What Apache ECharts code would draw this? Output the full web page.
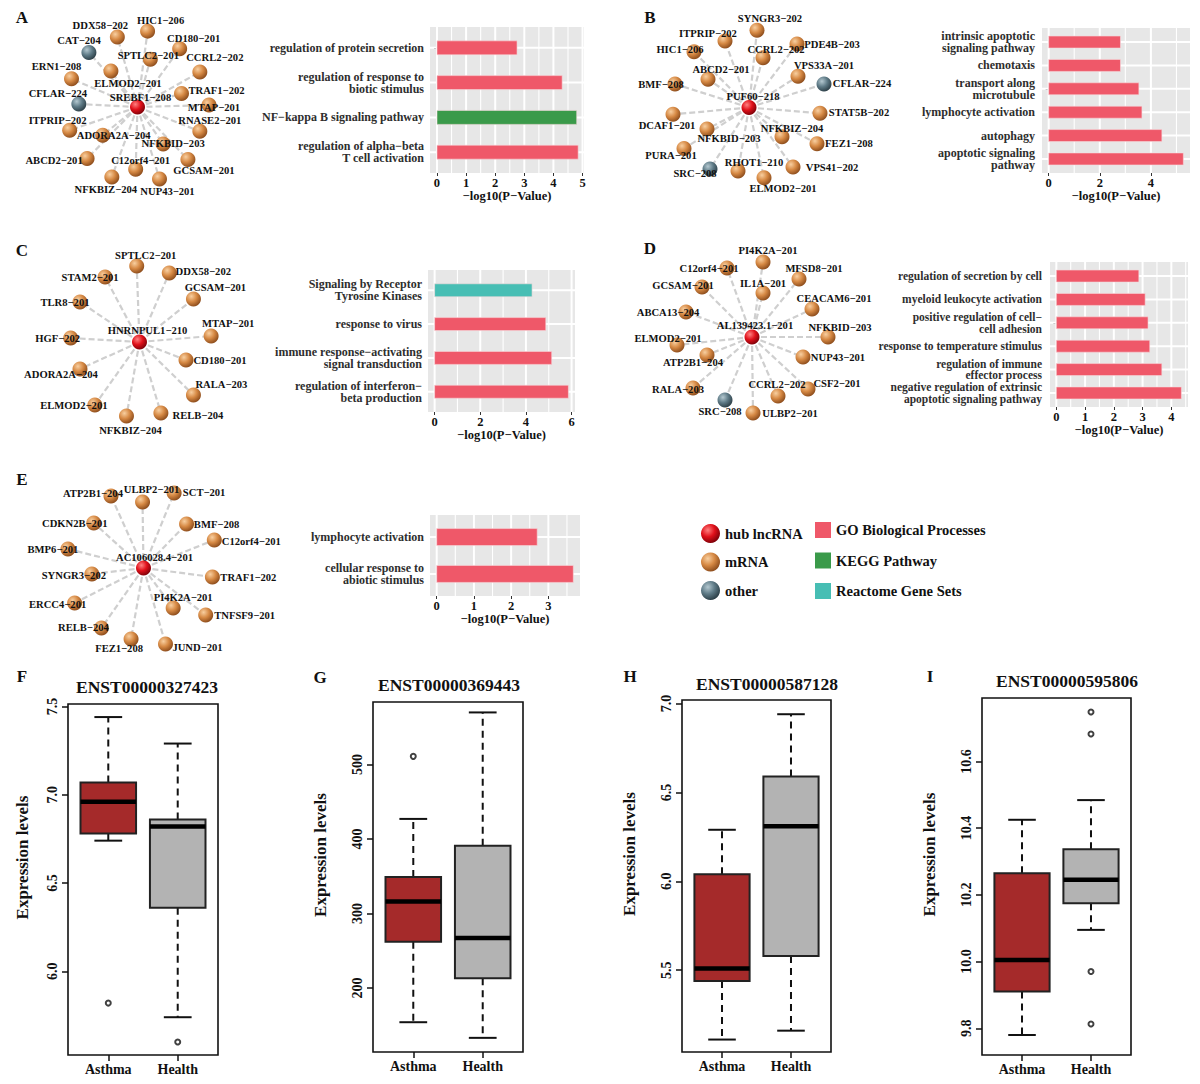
<!DOCTYPE html>
<html><head><meta charset="utf-8">
<script src="https://cdn.jsdelivr.net/npm/echarts@6/dist/echarts.min.js"></script>
<style>html,body{margin:0;padding:0;background:#fff}#c{width:1200px;height:1084px}</style>
</head><body><div id="c"></div>
<script>
// ================= DATA =================
// ---- Networks (hub first). Types: hub / mRNA / other
const netA_names = ['SREBF1-208','DDX58-202','HIC1-206','CAT-204','CD180-201','SPTLC2-201','CCRL2-202','ERN1-208','ELMOD2-201','TRAF1-202','CFLAR-224','MTAP-201','ITPRIP-202','RNASE2-201','ADORA2A-204','NFKBID-203','ABCD2-201','C12orf4-201','GCSAM-201','NFKBIZ-204','NUP43-201'];
const netA_types = ['hub','mRNA','mRNA','other','mRNA','mRNA','mRNA','mRNA','mRNA','mRNA','other','mRNA','mRNA','mRNA','mRNA','mRNA','mRNA','mRNA','mRNA','mRNA','mRNA'];
const netB_names = ['PUF60-218','SYNGR3-202','ITPRIP-202','PDE4B-203','HIC1-206','CCRL2-202','ABCD2-201','VPS33A-201','CFLAR-224','BMF-208','DCAF1-201','STAT5B-202','NFKBID-203','NFKBIZ-204','FEZ1-208','PURA-201','SRC-208','RHOT1-210','VPS41-202','ELMOD2-201'];
const netB_types = ['hub','mRNA','mRNA','mRNA','mRNA','mRNA','mRNA','mRNA','other','mRNA','mRNA','mRNA','mRNA','mRNA','mRNA','mRNA','other','mRNA','mRNA','mRNA'];
const netC_names = ['HNRNPUL1-210','SPTLC2-201','DDX58-202','STAM2-201','GCSAM-201','TLR8-201','MTAP-201','HGF-202','CD180-201','ADORA2A-204','RALA-203','ELMOD2-201','RELB-204','NFKBIZ-204'];
const netC_types = ['hub','mRNA','mRNA','mRNA','mRNA','mRNA','mRNA','mRNA','mRNA','mRNA','mRNA','mRNA','mRNA','mRNA'];
const netD_names = ['AL139423.1-201','PI4K2A-201','C12orf4-201','MFSD8-201','GCSAM-201','IL1A-201','CEACAM6-201','ABCA13-204','NFKBID-203','ELMOD2-201','ATP2B1-204','NUP43-201','RALA-203','CCRL2-202','CSF2-201','SRC-208','ULBP2-201'];
const netD_types = ['hub','mRNA','mRNA','mRNA','mRNA','mRNA','mRNA','mRNA','mRNA','mRNA','mRNA','mRNA','mRNA','mRNA','mRNA','other','mRNA'];
const netE_names = ['AC106028.4-201','ATP2B1-204','ULBP2-201','SCT-201','CDKN2B-201','BMF-208','C12orf4-201','BMP6-201','SYNGR3-202','TRAF1-202','PI4K2A-201','ERCC4-201','TNFSF9-201','RELB-204','FEZ1-208','JUND-201'];
const netE_types = ['hub','mRNA','mRNA','mRNA','mRNA','mRNA','mRNA','mRNA','mRNA','mRNA','mRNA','mRNA','mRNA','mRNA','mRNA','mRNA'];

// ---- Enrichment bar panels
const barA_terms = ['regulation of protein secretion','regulation of response to\nbiotic stimulus','NF\u2212kappa B signaling pathway','regulation of alpha\u2212beta\nT cell activation'];
const barA_values = [2.75, 4.30, 4.80, 4.85];
const barA_source = ['GO','GO','KEGG','GO'];
const barA_ticks = [0,1,2,3,4,5];
const barB_terms = ['intrinsic apoptotic\nsignaling pathway','chemotaxis','transport along\nmicrotubule','lymphocyte activation','autophagy','apoptotic signaling\npathway'];
const barB_values = [2.81, 2.81, 3.53, 3.65, 4.43, 5.27];
const barB_source = ['GO','GO','GO','GO','GO','GO'];
const barB_ticks = [0,2,4];
const barC_terms = ['Signaling by Receptor\nTyrosine Kinases','response to virus','immune response\u2212activating\nsignal transduction','regulation of interferon\u2212\nbeta production'];
const barC_values = [4.27, 4.87, 5.13, 5.86];
const barC_source = ['Reactome','GO','GO','GO'];
const barC_ticks = [0,2,4,6];
const barD_terms = ['regulation of secretion by cell','myeloid leukocyte activation','positive regulation of cell\u2212\ncell adhesion','response to temperature stimulus','regulation of immune\neffector process','negative regulation of extrinsic\napoptotic signaling pathway'];
const barD_values = [2.87, 3.09, 3.19, 3.25, 3.67, 4.35];
const barD_source = ['GO','GO','GO','GO','GO','GO'];
const barD_ticks = [0,1,2,3,4];
const barE_terms = ['lymphocyte activation','cellular response to\nabiotic stimulus'];
const barE_values = [2.70, 3.67];
const barE_source = ['GO','GO'];
const barE_ticks = [0,1,2,3];

// ---- Box plots: [lower whisker, Q1, median, Q3, upper whisker]
const boxGroups = ['Asthma','Health'];
const boxF_title = 'ENST00000327423';
const boxF_stats = [[6.74,6.78,6.96,7.07,7.44],[5.74,6.36,6.82,6.86,7.29]];
const boxF_out = [[5.82],[5.60]];
const boxF_ticks = [6.0,6.5,7.0,7.5];
const boxG_title = 'ENST00000369443';
const boxG_stats = [[154,262,316,349,427],[133,213,267,391,570]];
const boxG_out = [[511],[]];
const boxG_ticks = [200,300,400,500];
const boxH_title = 'ENST00000587128';
const boxH_stats = [[5.11,5.44,5.51,6.04,6.29],[5.16,5.58,6.31,6.59,6.94]];
const boxH_out = [[],[]];
const boxH_ticks = [5.5,6.0,6.5,7.0];
const boxI_title = 'ENST00000595806';
const boxI_stats = [[9.78,9.91,10.005,10.265,10.425],[10.095,10.175,10.245,10.337,10.484]];
const boxI_out = [[],[10.748,10.682,9.97,9.813]];
const boxI_ticks = [9.8,10.0,10.2,10.4,10.6];

// ================= LAYOUT (positions / styles) =================
const netA_node = [[125,104],[103,32],[136,26],[72,48],[171,44],[139,55],[193,68],[53,75],[96,67],[173,90],[61,101],[203,102],[51,128],[193,129],[87,133],[153,142],[70,157],[123,168],[180,158],[97,176],[149,178]];
const netA_lab  = [[128,94],[86,21],[149,15],[62,36],[185,34],[137,51],[208,54],[38,63],[113,79],[208,87],[40,90],[208,104],[39,118],[203,118],[98,133],[163,142],[37,159],[128,159],[196,169],[91,188],[157,191]];
const netB_node = [[749,105],[757,26],[725,37],[797,40],[694,48],[763,54],[708,76],[798,73],[824,81],[675,81],[673,112],[820,111],[707,127],[782,135],[817,142],[684,147],[710,168],[738,170],[793,166],[764,177]];
const netB_lab  = [[753,94],[770,14],[708,29],[832,41],[680,46],[776,46],[721,66],[824,62],[862,80],[661,81],[667,123],[859,110],[729,136],[792,127],[849,142],[671,154],[695,172],[754,161],[832,166],[783,188]];
const netC_node = [[129,342],[126,266],[161,273],[92,277],[187,299],[65,302],[206,336],[55,338],[179,360],[65,369],[187,395],[81,405],[152,413],[115,416]];
const netC_lab  = [[137,330],[135,255],[195,271],[77,277],[209,287],[50,302],[223,323],[42,338],[213,360],[46,374],[215,384],[60,405],[189,415],[119,430]];
const netD_node = [[752,337],[763,262],[727,268],[799,279],[702,287],[763,293],[812,309],[686,312],[828,337],[677,345],[707,355],[803,357],[693,388],[778,396],[808,389],[725,400],[753,413]];
const netD_lab  = [[755,325],[768,250],[709,268],[814,268],[683,285],[763,283],[834,298],[668,312],[840,327],[668,338],[693,362],[838,357],[678,389],[777,384],[837,383],[720,411],[790,413]];
const netE_node = [[137,568],[103,496],[136,502],[169,493],[85,523],[182,524],[211,540],[58,549],[83,574],[209,577],[168,608],[65,603],[202,615],[93,628],[124,639],[160,644]];
const netE_lab  = [[148,557],[85,493],[145,489],[199,492],[66,523],[212,524],[248,541],[43,549],[65,575],[245,577],[178,597],[48,604],[241,615],[75,627],[112,648],[192,647]];

const FONT = "'Liberation Serif','Times New Roman',serif";
const COLORS = {GO:'#EF5869', KEGG:'#3A9A4A', Reactome:'#47BEB4'};
const SOURCE_NAMES = {GO:'GO Biological Processes', KEGG:'KEGG Pathway', Reactome:'Reactome Gene Sets'};
const sphere = (a,b,c)=>({type:'radial', x:0.36, y:0.32, r:0.72, colorStops:[{offset:0,color:a},{offset:0.5,color:b},{offset:1,color:c}]});
const NODE_CATS = [
  {name:'hub lncRNA', itemStyle:{color:sphere('#ff8080','#e0101a','#7a0008')}},
  {name:'mRNA', itemStyle:{color:sphere('#f8cfa0','#d68944','#8a4a1a')}},
  {name:'other', itemStyle:{color:sphere('#b4c8d0','#5f7b87','#2a3c44')}}
];
const CAT_INDEX = {hub:0, mRNA:1, other:2};
const minus = s => s.replace(/-/g,'\u2212');

const option = {animation:false, backgroundColor:'#fff', grid:[], xAxis:[], yAxis:[], series:[], graphic:[]};
function addGrid(g, xa, ya){ const i = option.grid.length; option.grid.push(g); xa.gridIndex=i; ya.gridIndex=i; option.xAxis.push(xa); option.yAxis.push(ya); return i; }

// ---------- Networks ----------
function makeNet(names, types, nodeXY, labXY){
  const hub = nodeXY[0];
  const gi = addGrid({left:hub[0]-150, top:hub[1]-110, width:300, height:220, show:false},
    {type:'value', min:-150, max:150, show:false},
    {type:'value', min:-110, max:110, inverse:true, show:false});
  option.series.push({
    type:'graph', coordinateSystem:'cartesian2d', xAxisIndex:gi, yAxisIndex:gi, layout:'none', silent:true,
    categories: NODE_CATS, symbolSize:15, z:3,
    lineStyle:{color:'#cfcfcf', width:2.2, type:[6,3], opacity:1, curveness:0},
    label:{show:true, position:'inside', fontFamily:FONT, fontWeight:'bold', fontSize:10.6, color:'#111'},
    data: names.map((n,i)=>({name:n, value:[nodeXY[i][0]-hub[0], nodeXY[i][1]-hub[1]], category:CAT_INDEX[types[i]],
      label:{offset:[labXY[i][0]-nodeXY[i][0], labXY[i][1]-nodeXY[i][1]], formatter:minus(n)}})),
    links: names.slice(1).map(n=>({source:names[0], target:n}))
  });
}
makeNet(netA_names, netA_types, netA_node, netA_lab);
makeNet(netB_names, netB_types, netB_node, netB_lab);
makeNet(netC_names, netC_types, netC_node, netC_lab);
makeNet(netD_names, netD_types, netD_node, netD_lab);
makeNet(netE_names, netE_types, netE_node, netE_lab);

// ---------- Bar panels ----------
function makeBar(terms, values, sources, ticks, cfg){
  const n = terms.length;
  const step = ticks[1]-ticks[0];
  const minors = []; for (let v=ticks[0]+step/2; v<cfg.max; v+=step/2) if (ticks.indexOf(+v.toFixed(4))<0) minors.push(+v.toFixed(4));
  const idx = terms.map((t,i)=>i+1);
  const gi = addGrid({left:cfg.left, top:cfg.top, width:cfg.width, height:cfg.height, show:true, backgroundColor:'#E7E7E7', borderWidth:0},
    {type:'value', min:cfg.min, max:cfg.max, splitLine:{show:false}, axisLine:{show:false},
     axisTick:{show:true, customValues:ticks, length:3, lineStyle:{color:'#333', width:1}},
     axisLabel:{customValues:ticks, formatter:v=>String(v), margin:3, hideOverlap:false, fontFamily:FONT, fontWeight:'bold', fontSize:12.5, color:'#111'},
     name:'\u2212log10(P\u2212Value)', nameLocation:'middle', nameGap:15,
     nameTextStyle:{fontFamily:FONT, fontWeight:'bold', fontSize:12.5, color:'#111'}},
    {type:'value', min:0.4, max:n+0.6, inverse:true, splitLine:{show:false}, axisLine:{show:false},
     axisTick:{show:true, customValues:idx, length:3, lineStyle:{color:'#333', width:1}},
     axisLabel:{show:false}});
  // white grid lines
  const gl = ticks.map(v=>[v,0]).concat(minors.map(v=>[v,1])).concat(idx.map(v=>[v,2]));
  option.series.push({type:'custom', xAxisIndex:gi, yAxisIndex:gi, silent:true, z:1, data:gl,
    renderItem:function(params, api){
      const v = api.value(0), k = api.value(1), cs = params.coordSys;
      if (k===2){ const y = api.coord([0,v])[1]; return {type:'line', shape:{x1:cs.x, y1:y, x2:cs.x+cs.width, y2:y}, style:{stroke:'#fff', lineWidth:2}}; }
      const x = api.coord([v,1])[0];
      return {type:'line', shape:{x1:x, y1:cs.y, x2:x, y2:cs.y+cs.height}, style:{stroke:'#fff', lineWidth:k===0?2:1.1}};
    }});
  // category (term) labels, placed through the y scale
  const fs = cfg.fs || 12, lh = cfg.lh || 12;
  option.series.push({type:'custom', xAxisIndex:gi, yAxisIndex:gi, silent:true, z:4, clip:false,
    data: idx.map(i=>[cfg.min, i]),
    renderItem:function(params, api){
      const cs = params.coordSys, y = api.coord([0, api.value(1)])[1];
      return {type:'text', x:cs.x - cfg.lm, y:y, style:{text:terms[params.dataIndex], align:'right', verticalAlign:'middle',
        fontFamily:FONT, fontWeight:'bold', fontSize:fs, lineHeight:lh, fill:'#2e2e2e'}};
    }});
  ['GO','KEGG','Reactome'].forEach(src=>{
    const d = []; values.forEach((v,i)=>{ if (sources[i]===src) d.push([v, i+1]); });
    if (!d.length) return;
    option.series.push({type:'custom', name:SOURCE_NAMES[src], xAxisIndex:gi, yAxisIndex:gi, z:2, silent:true,
      itemStyle:{color:COLORS[src]}, data:d,
      renderItem:function(params, api){
        const p0 = api.coord([0, api.value(1)]), p1 = api.coord([api.value(0), api.value(1)]);
        return {type:'rect', shape:{x:p0[0], y:p0[1]-cfg.thick/2, width:p1[0]-p0[0], height:cfg.thick}, style:{fill:COLORS[src], stroke:'#f6dadd', lineWidth:0.6}};
      }});
  });
}
makeBar(barA_terms, barA_values, barA_source, barA_ticks, {left:430, top:27, width:154, height:146, min:-0.24, max:5.05, thick:14, lm:6});
makeBar(barB_terms, barB_values, barB_source, barB_ticks, {left:1042, top:28, width:148, height:145, min:-0.26, max:5.53, thick:12, lm:7});
makeBar(barC_terms, barC_values, barC_source, barC_ticks, {left:428, top:270, width:147, height:142, min:-0.29, max:6.15, thick:13, lm:6});
makeBar(barD_terms, barD_values, barD_source, barD_ticks, {left:1050, top:262, width:138, height:145, min:-0.22, max:4.58, thick:12, lm:8, fs:11.5, lh:11.6});
makeBar(barE_terms, barE_values, barE_source, barE_ticks, {left:430, top:515, width:150, height:81, min:-0.18, max:3.85, thick:17, lm:6});

// ---------- Box panels ----------
const BOX_FILL = ['#A52A2A','#B3B3B3'];
function makeBox(title, stats, outs, ticks, cfg){
  const dec = ticks.some(t=>Math.abs(t-Math.round(t))>1e-9) ? 1 : 0;
  const gi = addGrid({left:cfg.left, top:cfg.top, width:cfg.width, height:cfg.height, show:true, borderColor:'#111', borderWidth:1.6, backgroundColor:'transparent'},
    {type:'value', min:0.42, max:2.58, splitLine:{show:false}, axisLine:{show:false},
     axisTick:{show:true, customValues:[1,2], length:6, lineStyle:{color:'#111', width:1.5}},
     axisLabel:{customValues:[1,2], formatter:v=>boxGroups[Math.round(v)-1], margin:7, hideOverlap:false, fontFamily:FONT, fontWeight:'bold', fontSize:14, color:'#111'}},
    {type:'value', min:cfg.min, max:cfg.max, splitLine:{show:false}, axisLine:{show:false},
     axisTick:{show:true, customValues:ticks, length:6, lineStyle:{color:'#111', width:1.5}},
     axisLabel:{customValues:ticks, formatter:v=>v.toFixed(dec), rotate:90, margin:9, hideOverlap:false, showMinLabel:true, showMaxLabel:true, fontFamily:FONT, fontWeight:'bold', fontSize:14, color:'#111'},
     name:'Expression levels', nameLocation:'middle', nameGap:cfg.ng, nameRotate:90,
     nameTextStyle:{fontFamily:FONT, fontWeight:'bold', fontSize:17, color:'#111', padding:[0,0,0,44]}});
  option.series.push({type:'custom', xAxisIndex:gi, yAxisIndex:gi, silent:true, z:2,
    data: stats.map((s,i)=>[i+1].concat(s)),
    renderItem:function(params, api){
      const x = api.value(0), lw=api.value(1), q1=api.value(2), md=api.value(3), q3=api.value(4), uw=api.value(5);
      const P = (a,b)=>api.coord([a,b]);
      const hw=0.4, cw=0.2, dash=[7,5];
      const L = (a,b,c,d,st)=>({type:'line', shape:{x1:P(a,b)[0], y1:P(a,b)[1], x2:P(c,d)[0], y2:P(c,d)[1]}, style:st});
      const ws = {stroke:'#111', lineWidth:2, lineDash:dash};
      const cs = {stroke:'#111', lineWidth:2};
      const tl = P(x-hw,q3), br = P(x+hw,q1);
      return {type:'group', children:[
        L(x,q3,x,uw,ws), L(x,q1,x,lw,ws),
        L(x-cw,uw,x+cw,uw,cs), L(x-cw,lw,x+cw,lw,cs),
        {type:'rect', shape:{x:tl[0], y:tl[1], width:br[0]-tl[0], height:br[1]-tl[1]}, style:{fill:BOX_FILL[params.dataIndex], stroke:'#222', lineWidth:2}},
        L(x-hw,md,x+hw,md,{stroke:'#000', lineWidth:4.5})
      ]};
    }});
  const od = []; outs.forEach((arr,i)=>arr.forEach(v=>od.push([i+1, v])));
  option.series.push({type:'scatter', xAxisIndex:gi, yAxisIndex:gi, silent:true, z:3, symbol:'emptyCircle', symbolSize:5,
    itemStyle:{color:'#111', borderColor:'#111', borderWidth:2.2}, data:od});
  option.graphic.push({type:'text', x:cfg.tx, y:cfg.ty, style:{text:title, fill:'#111', font:'bold 17.5px '+FONT, textAlign:'center', textVerticalAlign:'middle'}});
}
makeBox(boxF_title, boxF_stats, boxF_out, boxF_ticks, {left:68, top:704, width:150, height:351, min:5.526, max:7.514, ng:37, tx:147, ty:687});
makeBox(boxG_title, boxG_stats, boxG_out, boxG_ticks, {left:373, top:702, width:150, height:350, min:114, max:584, ng:44, tx:449, ty:685});
makeBox(boxH_title, boxH_stats, boxH_out, boxH_ticks, {left:682, top:700, width:149, height:352, min:5.04, max:7.02, ng:44, tx:767, ty:684});
makeBox(boxI_title, boxI_stats, boxI_out, boxI_ticks, {left:982, top:698, width:149, height:357, min:9.72, max:10.79, ng:44, tx:1067, ty:681});

// ---------- Panel letters ----------
[['A',22,17],['B',650,17],['C',22,250],['D',650,248],['E',22,479],['F',22,676],['G',320,677],['H',630,676],['I',930,676]].forEach(l=>{
  option.graphic.push({type:'text', x:l[1], y:l[2], style:{text:l[0], fill:'#111', font:'bold 17px '+FONT, textAlign:'center', textVerticalAlign:'middle'}});
});

// ---------- Legends ----------
option.legend = [
  {data:['hub lncRNA','mRNA','other'], orient:'vertical', left:701, top:524, padding:0, itemWidth:19, itemHeight:19, itemGap:9.5, icon:'circle', selectedMode:false,
   textStyle:{fontFamily:FONT, fontWeight:'bold', fontSize:14.5, color:'#111'}},
  {data:['GO Biological Processes','KEGG Pathway','Reactome Gene Sets'], orient:'vertical', left:815, top:522, padding:0, itemWidth:16, itemHeight:16, itemGap:14.5, icon:'rect', selectedMode:false,
   textStyle:{fontFamily:FONT, fontWeight:'bold', fontSize:14.5, color:'#111'}}
];

const chart = echarts.init(document.getElementById('c'), null, {renderer:'svg'});
chart.setOption(option);
</script>
</body></html>
